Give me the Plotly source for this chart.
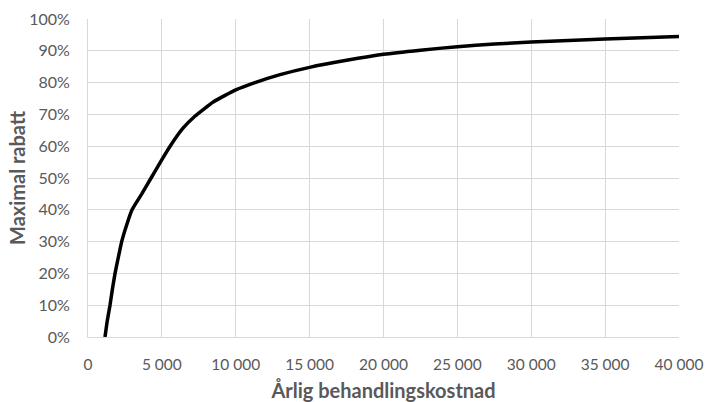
import plotly.graph_objects as go

# Data
kostnad = [1150, 1300, 1490, 1650, 1830, 2050, 2280, 2600, 2980, 3300, 3640,
           4270, 4900, 5600, 6400, 7250, 8500, 10000, 11300, 13000, 15000,
           17500, 20000, 22500, 25000, 27500, 30000, 35000, 40000]
rabatt = [0.0, 0.05, 0.10, 0.15, 0.20, 0.25, 0.30, 0.35, 0.40, 0.425, 0.45,
          0.50, 0.55, 0.603, 0.655, 0.695, 0.74, 0.777, 0.80, 0.825, 0.848,
          0.870, 0.889, 0.902, 0.913, 0.921, 0.928, 0.937, 0.945]

x_tickvals = [0, 5000, 10000, 15000, 20000, 25000, 30000, 35000, 40000]
x_ticktext = ["0", "5 000", "10 000", "15 000", "20 000", "25 000", "30 000", "35 000", "40 000"]
y_tickvals = [0, 0.1, 0.2, 0.3, 0.4, 0.5, 0.6, 0.7, 0.8, 0.9, 1.0]
y_ticktext = ["0%", "10%", "20%", "30%", "40%", "50%", "60%", "70%", "80%", "90%", "100%"]

x_title = "Årlig behandlingskostnad"
y_title = "Maximal rabatt"

FONT = "Lato"
TXT = "#595959"
GRID = "#d9d9d9"

fig = go.Figure()
fig.add_trace(go.Scatter(
    x=kostnad, y=rabatt, mode="lines",
    line=dict(color="#000000", width=3.5, shape="spline", smoothing=0.4),
    hoverinfo="skip", showlegend=False,
))

fig.update_layout(
    width=706, height=402,
    margin=dict(l=88, r=27, t=19, b=65),
    paper_bgcolor="white", plot_bgcolor="white",
    font=dict(family=FONT, size=16, color=TXT),
    showlegend=False,
)
fig.update_xaxes(
    range=[0, 40000], tickvals=x_tickvals, ticktext=x_ticktext,
    showgrid=True, gridcolor=GRID, gridwidth=1,
    showline=True, linecolor=GRID, linewidth=1, mirror=False,
    zeroline=False, ticks="outside", ticklen=0, ticklabelstandoff=13,
    tickfont=dict(family=FONT, size=15.5, color=TXT),
    title=dict(text=x_title, font=dict(family=FONT, size=20, color=TXT, weight="bold"), standoff=15),
    automargin=False, fixedrange=True,
)
fig.update_yaxes(
    range=[0, 1.0], tickvals=y_tickvals, ticktext=y_ticktext,
    showgrid=True, gridcolor=GRID, gridwidth=1,
    showline=True, linecolor=GRID, linewidth=1,
    zeroline=False, ticks="outside", ticklen=0, ticklabelstandoff=14,
    tickfont=dict(family=FONT, size=16, color=TXT),
    automargin=False, fixedrange=True,
)
# y-axis title as a rotated annotation so it can sit exactly where the reference has it
fig.add_annotation(
    text=y_title, textangle=-90, showarrow=False,
    xref="paper", yref="paper", x=0, y=0.5, xanchor="center", yanchor="middle",
    xshift=-71, font=dict(family=FONT, size=20, color=TXT, weight="bold"),
)
fig.write_html(
    "out.html",
    config={"displayModeBar": False},
    post_script="document.body.style.margin='0';document.body.style.overflow='hidden';",
)
